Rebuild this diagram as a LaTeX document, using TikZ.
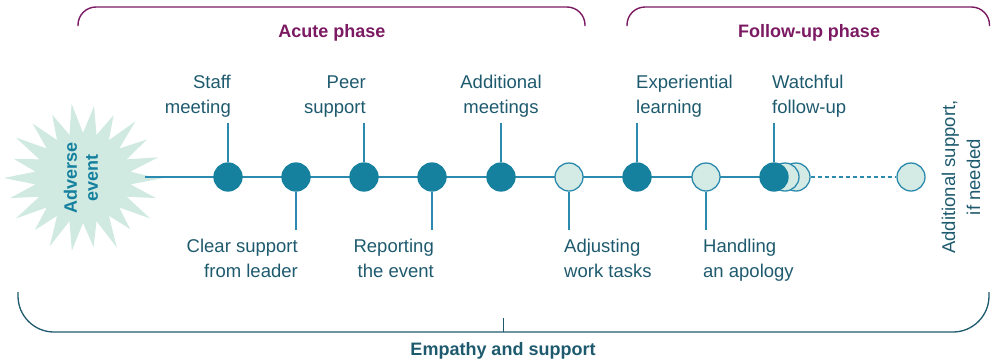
\documentclass[tikz,border=0pt]{standalone}
\usepackage{fontspec}
\setmainfont{Liberation Sans}
\definecolor{tdark}{HTML}{16809F}
\definecolor{tline}{HTML}{2B8AAD}
\definecolor{tlight}{HTML}{D4EAE4}
\definecolor{ttext}{HTML}{1E5A6E}
\definecolor{ppurple}{HTML}{7B1A62}
\definecolor{starfill}{HTML}{D0EAE2}
\begin{document}
\begin{tikzpicture}[x=1pt,y=-1pt,
  lbl/.style={text=ttext,font=\fontsize{18.5}{25}\selectfont,inner sep=0pt},
  ttl/.style={font=\bfseries\fontsize{18}{22}\selectfont,inner sep=0pt},
  dot/.style={circle,minimum size=28pt,inner sep=0pt,line width=1.3pt,draw=tline},
  darkdot/.style={dot,fill=tdark,draw=tdark},
  lightdot/.style={dot,fill=tlight},
  tick/.style={draw=tline,line width=1.4pt},
  pbr/.style={draw=ppurple,line width=1.4pt,rounded corners=18pt},
  ebr/.style={draw=ttext,line width=1.3pt,rounded corners=36pt}]
\useasboundingbox (0,0) rectangle (991,360);
% star
\fill[starfill] ({83+80},178)
  \foreach \r [count=\k] in {0.95,1.0,0.9,1.02,0.93,0.98,1.0,0.92,1.0,0.95,0.99,0.9,1.0,0.96,0.93,1.0,0.97,0.92,1.0,0.95,0.98,0.92} {
    -- ({83+48*cos((\k-0.5)*360/22)},{178+45*sin((\k-0.5)*360/22)})
    -- ({83+80*\r*cos(\k*360/22)},{178+75*\r*sin(\k*360/22)})
  } -- cycle;
\node[rotate=90,align=center,text=tdark,font=\bfseries\fontsize{18}{21}\selectfont,inner sep=0pt] (star) at (81,178) {Adverse\\event};
% timeline
\coordinate (start) at (145,177);
\node[dot,draw=none] (c11p) at (796,177) {};
\draw[tick] (start) -- (c11p.center);
\node[lightdot] (c12) at (911,177) {};
\draw[tline,line width=1.4pt,dash pattern=on 4pt off 3pt] (c11p.east) -- (c12.west);
\node[darkdot] (c1) at (228,177) {};
\node[darkdot] (c2) at (296,177) {};
\node[darkdot] (c3) at (364,177) {};
\node[darkdot] (c4) at (432,177) {};
\node[darkdot] (c5) at (501,177) {};
\node[lightdot] (c6) at (569,177) {};
\node[darkdot] (c7) at (637,177) {};
\node[lightdot] (c8) at (706,177) {};
\node[lightdot] (c11) at (796,177) {};
\node[lightdot] (c10) at (785,177) {};
\node[darkdot] (c9) at (774,177) {};
% upper labels (base = last line)
\node[lbl,anchor=base east,align=right] (l1) at (231,113) {Staff\\meeting};
\node[lbl,anchor=base east,align=right] (l3) at (366,113) {Peer\\support};
\node[lbl,anchor=base,align=center] (l5) at (501,113) {Additional\\meetings};
\node[lbl,anchor=base west,align=left] (l7) at (636,113) {Experiential\\learning};
\node[lbl,anchor=base west,align=left] (l9) at (772,113) {Watchful\\follow-up};
\coordinate (t1) at (228,123);
\coordinate (t3) at (364,123);
\coordinate (t5) at (501,123);
\coordinate (t7) at (637,123);
\coordinate (t9) at (774,123);
\draw[tick] (c1.north) -- (t1);
\draw[tick] (c3.north) -- (t3);
\draw[tick] (c5.north) -- (t5);
\draw[tick] (c7.north) -- (t7);
\draw[tick] (c9.north) -- (t9);
% lower labels
\node[lbl,anchor=base east,align=right] (l2) at (298,277) {Clear support\\from leader};
\node[lbl,anchor=base east,align=right] (l4) at (434,277) {Reporting\\the event};
\node[lbl,anchor=base west,align=left] (l6) at (564,277) {Adjusting\\work tasks};
\node[lbl,anchor=base west,align=left] (l8) at (703,277) {Handling\\an apology};
\coordinate (b2) at (296,230);
\coordinate (b4) at (432,230);
\coordinate (b6) at (569,230);
\coordinate (b8) at (706,230);
\draw[tick] (c2.south) -- (b2);
\draw[tick] (c4.south) -- (b4);
\draw[tick] (c6.south) -- (b6);
\draw[tick] (c8.south) -- (b8);
% rotated label
\node[lbl,rotate=90,align=center,anchor=center] (l12) at (961,177) {Additional support,\\if needed};
% phase brackets
\draw[pbr] (78,26) -- (78,7) -- (585,7) -- (585,26);
\draw[pbr] (627,26) -- (627,7) -- (989.5,7) -- (989.5,26);
\node[ttl,text=ppurple] (acute) at (332,33) {Acute phase};
\node[ttl,text=ppurple] (follow) at (809,33) {Follow-up phase};
% bottom bracket
\draw[ebr] (18,292) -- (18,332) -- (989,332) -- (989,292);
\coordinate (bmid) at (503,332);
\draw[draw=ttext,line width=1pt] (bmid) -- ++(0,-14);
\node[ttl,text=ttext] (emp) at (503,351) {Empathy and support};
\end{tikzpicture}
\end{document}
